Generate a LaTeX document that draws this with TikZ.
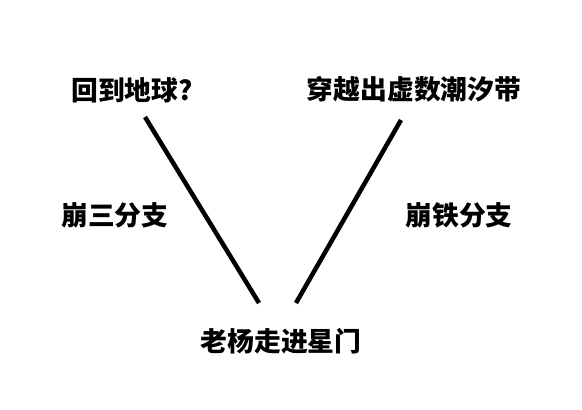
\documentclass[tikz,border=0pt]{standalone}
\usepackage{fontspec}
\usepackage{tikz}
\newfontfamily\cjk{Noto Sans CJK SC}

\begin{document}
\begin{tikzpicture}[x=1pt,y=-1pt]
\useasboundingbox (0,0) rectangle (582,410);

\tikzset{lbl/.style={font=\cjk\bfseries\fontsize{26.8}{27}\selectfont, inner sep=0pt}}

\node[lbl] (earth) at (132,90) {回到地球?};
\node[lbl] (tide) at (414,89) {穿越出虚数潮汐带};
\node[lbl] (honkai) at (115,215) {崩三分支};
\node[lbl] (rail) at (459,215) {崩铁分支};
\node[lbl] (gate) at (281,341) {老杨走进星门};

\coordinate (L1) at (145,117);
\coordinate (L2) at (259,303);
\coordinate (R1) at (401,120);
\coordinate (R2) at (296,303);

\draw[black,line width=4.5pt] (L1) -- (L2);
\draw[black,line width=4.5pt] (R1) -- (R2);

\end{tikzpicture}
\end{document}
